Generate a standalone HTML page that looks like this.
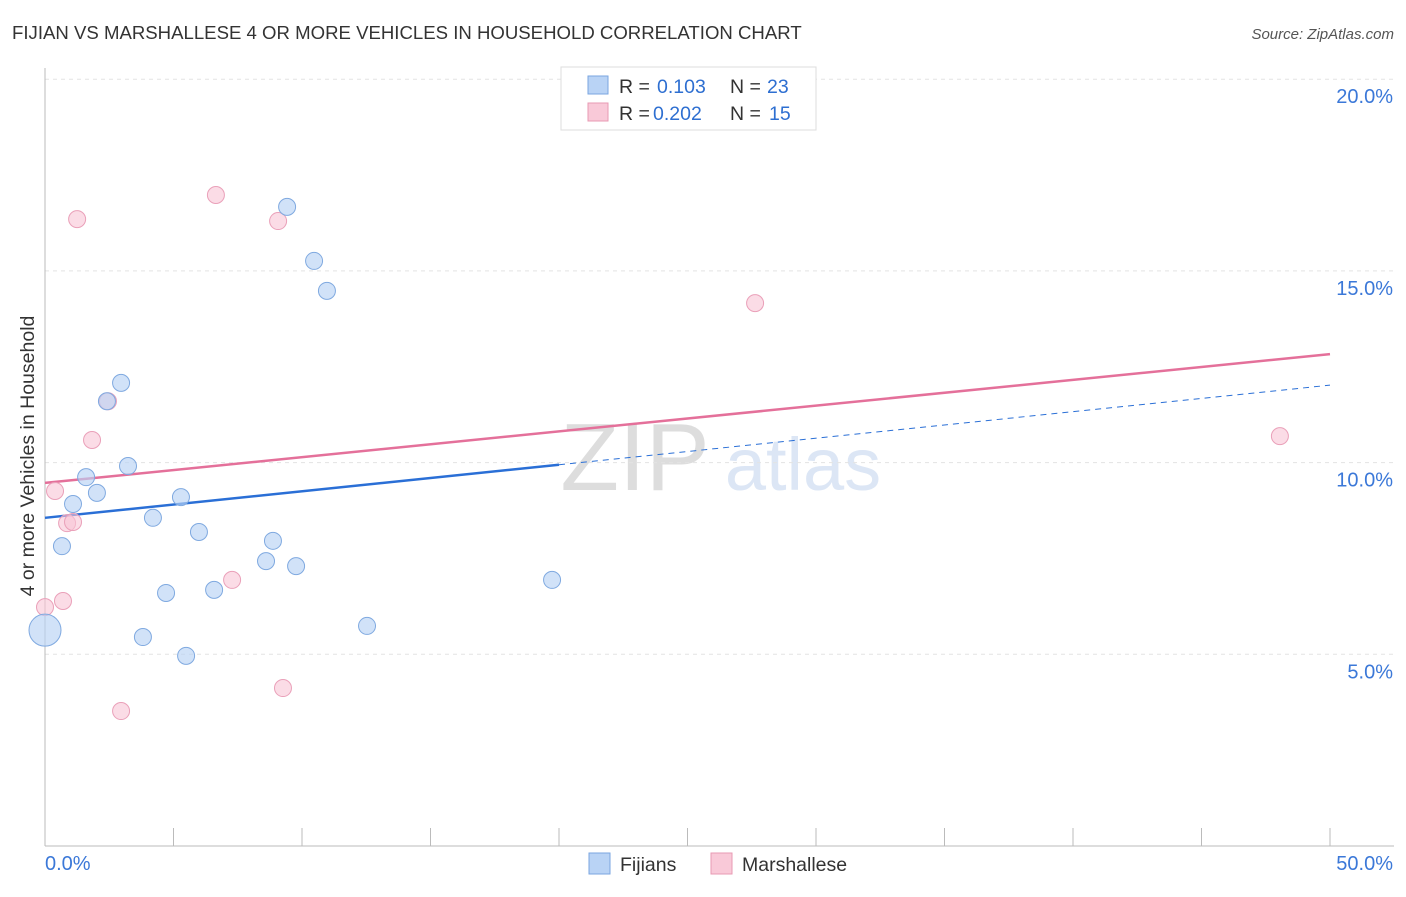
<!DOCTYPE html>
<html><head><meta charset="utf-8"><style>
body{margin:0;background:#fff;font-family:"Liberation Sans",sans-serif;}
svg text{font-family:"Liberation Sans",sans-serif;}
</style></head><body>
<svg id="chart" width="1406" height="892" xmlns="http://www.w3.org/2000/svg">
<text x="12" y="39" font-size="18.6" fill="#333">FIJIAN VS MARSHALLESE 4 OR MORE VEHICLES IN HOUSEHOLD CORRELATION CHART</text>
<text x="1394" y="39" font-size="15" fill="#555" font-style="italic" text-anchor="end">Source: ZipAtlas.com</text>
<text transform="translate(34,456) rotate(-90)" font-size="19.5" fill="#333" text-anchor="middle">4 or more Vehicles in Household</text>
<g>
<text x="635" y="490" font-size="96" fill="#ddd" font-family="Liberation Serif" text-anchor="middle">ZIP</text>
<text x="803" y="490" font-size="74" fill="#dce6f5" text-anchor="middle">atlas</text>
</g>
<g id="grid"></g><g id="axes"></g><g id="lines"></g><g id="points"></g>
<g>
<rect x="561" y="67" width="255" height="63" fill="#fff" stroke="#ddd"/>
<rect x="588" y="76" width="20" height="18" fill="#b9d3f5" stroke="#7aa6e0"/>
<text x="619" y="93" font-size="19.5" fill="#333">R =</text>
<text x="657" y="93" font-size="19.5" fill="#2e6fd1">0.103</text>
<text x="730" y="93" font-size="19.5" fill="#333">N =</text>
<text x="767" y="93" font-size="19.5" fill="#2e6fd1">23</text>
<rect x="588" y="103" width="20" height="18" fill="#f9c9d8" stroke="#e89ab3"/>
<text x="619" y="120" font-size="19.5" fill="#333">R =</text>
<text x="653" y="120" font-size="19.5" fill="#2e6fd1">0.202</text>
<text x="730" y="120" font-size="19.5" fill="#333">N =</text>
<text x="769" y="120" font-size="19.5" fill="#2e6fd1">15</text>
</g>
<g>
<rect x="589" y="853" width="21" height="21" fill="#b9d3f5" stroke="#7aa6e0"/>
<text x="620" y="871" font-size="19.5" fill="#333">Fijians</text>
<rect x="711" y="853" width="21" height="21" fill="#f9c9d8" stroke="#e89ab3"/>
<text x="742" y="871" font-size="19.5" fill="#333">Marshallese</text>
</g>
</svg>
<script>
const yTicks=[5,10,15,20];
const yTickLabels=["5.0%","10.0%","15.0%","20.0%"];
const xTicks=[0,5,10,15,20,25,30,35,40,45,50];
const fijiX=[0,0.66,1.09,1.6,2.02,2.41,2.96,3.23,3.81,4.2,4.71,5.29,5.49,5.99,6.58,8.6,8.87,9.42,9.77,10.47,10.97,12.53,19.73];
const fijiY=[5.63,7.82,8.92,9.62,9.21,11.6,12.08,9.91,5.45,8.56,6.6,9.1,4.96,8.19,6.68,7.43,7.96,16.67,7.3,15.26,14.48,5.74,6.94];
const marX=[0,0.39,0.7,0.86,1.09,1.25,1.83,2.45,2.96,6.65,7.28,9.07,9.26,27.63,48.05];
const marY=[6.23,9.26,6.39,8.42,8.45,16.35,10.59,11.6,3.52,16.98,6.94,16.3,4.12,14.16,10.69];
const fijiTrend=[8.56,12.02];
const marTrend=[9.47,12.83];
const NS="http://www.w3.org/2000/svg";
const sx=v=>45+v/50*1285, sy=v=>846-v/5*191.7;
function mk(tag,attrs,parent){const e=document.createElementNS(NS,tag);for(const k in attrs)e.setAttribute(k,attrs[k]);document.getElementById(parent).appendChild(e);return e;}
yTicks.forEach((t,i)=>{
 const g=mk('line',{x1:45,x2:1394,y1:sy(t),y2:sy(t),stroke:'#e3e3e3','stroke-dasharray':'4,4'},'grid');
 
 
 const l=mk('text',{x:1393,y:sy(t)+24,'font-size':20,fill:'#3b78d8','text-anchor':'end'},'grid');
 l.textContent=yTickLabels[i];
 
 
});
const ya=mk('line',{x1:45,x2:45,y1:68,y2:846,stroke:'#bbb'},'axes');


const xa=mk('line',{x1:45,x2:1394,y1:846,y2:846,stroke:'#bbb'},'axes');


xTicks.forEach(t=>{const e=mk('line',{x1:sx(t),x2:sx(t),y1:828,y2:846,stroke:'#bbb'},'axes');
 
 });
[[0,'0.0%','start',45],[50,'50.0%','end',1393]].forEach(a=>{const e=mk('text',{x:a[3],y:870,'font-size':20,fill:'#3b78d8','text-anchor':a[2]},'axes');e.textContent=a[1];
 
 });
const f1=mk('line',{x1:sx(0),y1:sy(fijiTrend[0]),x2:sx(20),y2:sy(fijiTrend[0]+(fijiTrend[1]-fijiTrend[0])*0.4),stroke:'#2a6fd6','stroke-width':2.5},'lines');


const f2=mk('line',{x1:sx(20),y1:sy(fijiTrend[0]+(fijiTrend[1]-fijiTrend[0])*0.4),x2:sx(50),y2:sy(fijiTrend[1]),stroke:'#2a6fd6','stroke-width':1,'stroke-dasharray':'6,5'},'lines');


const m1=mk('line',{x1:sx(0),y1:sy(marTrend[0]),x2:sx(50),y2:sy(marTrend[1]),stroke:'#e4709a','stroke-width':2.5},'lines');


marX.forEach((x,i)=>{const c=mk('circle',{cx:sx(x),cy:sy(marY[i]),r:8.5,fill:'rgba(249,196,213,0.6)',stroke:'#eaa0b9','stroke-width':1},'points');
 
 });
fijiX.forEach((x,i)=>{const c=mk('circle',{cx:sx(x),cy:sy(fijiY[i]),r:i==0?16:8.5,fill:'rgba(185,211,245,0.65)',stroke:'#7fa9e0','stroke-width':1},'points');
 
 });
</script>
</body></html>
